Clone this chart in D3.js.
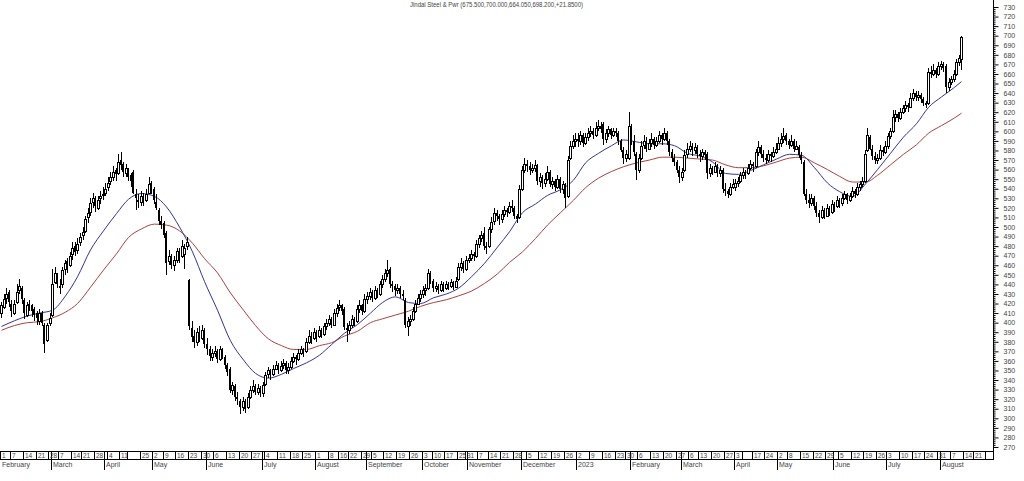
<!DOCTYPE html>
<html>
<head>
<meta charset="utf-8">
<script src="https://cdn.jsdelivr.net/npm/d3@7"></script>
<style>
  body { margin: 0; background: #fff; }
  svg { display: block; font-family: "Liberation Sans", Arial, sans-serif; }
  text { fill: #444; }
</style>
</head>
<body>
<svg width="1024" height="481"></svg>
<script>
// daily candles [open, high, low, close], one small array per month
const feb22 = [[410,422,405,418],[416,430,414,425],[426,436,420,430],[432,434,416,422],[420,424,406,412],[410,424,408,420],[422,440,420,432],[434,446,430,438],[436,438,420,425],[424,426,404,410],[408,422,406,418],[420,424,412,416],[418,420,406,412],[414,416,402,408],[410,412,398,405],[402,414,398,410],[410,412,396,400],[398,400,368,378],[382,400,380,398],[400,410,396,405]];
const mar22 = [[408,456,406,440],[442,458,440,452],[450,452,436,440],[438,446,430,436],[440,458,436,455],[456,466,450,462],[464,468,452,458],[460,474,458,470],[472,484,466,478],[480,484,470,474],[476,488,472,482],[484,494,480,490],[492,500,486,495],[496,512,494,508],[510,520,504,515],[516,530,512,525],[526,536,520,530],[530,532,516,522],[520,532,518,528],[530,538,524,532],[534,542,528,535]];
const apr22 = [[536,546,532,540],[542,552,538,546],[548,558,544,552],[552,564,548,558],[560,562,548,555],[556,576,554,568],[570,578,560,565],[566,568,552,558],[556,566,552,562],[560,562,548,552],[554,556,542,548],[557,560,534,536],[534,540,518,530],[528,534,520,526],[526,538,522,532],[532,536,522,528],[528,540,526,535],[536,552,534,545],[546,548,534,540]];
const may22 = [[540,542,524,528],[526,534,518,520],[518,520,502,506],[506,512,498,502],[504,506,488,492],[494,496,450,462],[464,476,460,470],[468,472,456,460],[460,470,454,466],[466,478,462,475],[474,478,462,468],[470,486,468,480],[472,482,456,478],[480,490,476,484],[445,446,392,396],[394,402,380,385],[386,392,374,380],[380,394,376,390],[390,396,380,384],[384,398,382,392],[392,394,374,378]];
const jun22 = [[378,384,366,372],[372,376,360,365],[364,372,360,368],[368,376,364,370],[370,372,358,362],[362,376,360,372],[372,374,362,366],[364,366,352,356],[356,358,344,348],[352,354,326,330],[330,338,324,335],[334,336,318,322],[322,328,314,320],[318,320,305,312],[312,322,308,318],[318,320,306,310],[312,326,310,322],[322,334,320,330],[330,340,326,334],[334,336,324,328],[328,336,324,332],[332,334,322,326]];
const jul22 = [[326,338,322,335],[336,348,334,345],[346,354,342,350],[350,352,340,346],[346,356,344,352],[352,360,350,356],[356,358,346,350],[350,360,348,355],[356,362,352,358],[358,360,346,350],[350,358,346,354],[354,364,352,360],[360,368,358,364],[364,366,356,362],[362,372,360,368],[368,376,366,372],[372,374,364,370],[370,384,368,380],[380,392,378,386],[386,390,378,384],[384,394,382,390]];
const aug22 = [[390,392,380,386],[386,396,384,392],[392,394,384,388],[388,400,386,396],[396,404,392,400],[400,408,396,404],[404,406,394,398],[398,414,396,410],[410,420,406,415],[416,424,412,418],[418,420,408,412],[414,416,392,395],[394,400,380,392],[392,402,388,398],[398,408,394,404],[404,406,396,402],[402,418,400,414],[414,424,410,418],[418,420,408,412],[412,430,410,425]];
const sep22 = [[425,432,420,428],[428,436,424,432],[432,434,422,426],[426,438,424,434],[434,436,426,430],[430,444,428,440],[440,450,436,446],[446,456,442,452],[452,466,448,455],[456,458,436,440],[440,444,432,438],[438,440,428,434],[434,440,430,436],[436,438,426,430],[430,434,424,428],[424,426,394,398],[396,406,386,402],[402,408,396,404],[404,416,402,412],[412,424,410,420],[420,430,418,426],[426,434,422,430]];
const oct22 = [[430,438,426,434],[434,440,428,436],[436,456,434,452],[452,454,440,444],[444,446,432,436],[436,442,432,438],[438,440,430,434],[434,444,432,440],[440,442,432,436],[436,444,434,440],[440,442,434,438],[438,446,436,442],[442,444,434,437],[437,448,436,444],[446,462,444,458],[458,468,454,462],[462,464,452,456],[456,470,454,465]];
const nov22 = [[465,472,462,468],[468,476,464,472],[472,474,464,470],[470,486,468,482],[482,492,478,488],[488,496,484,492],[494,500,476,480],[480,484,472,478],[480,500,478,498],[498,510,494,505],[506,520,502,515],[515,518,506,512],[512,514,502,508],[508,518,504,514],[514,522,510,518],[518,520,510,516],[516,526,514,522],[522,528,516,520],[520,522,508,512],[512,514,504,508],[510,544,508,540]];
const dec22 = [[540,564,538,560],[560,572,556,566],[566,570,558,564],[564,568,554,560],[560,566,556,562],[562,570,558,565],[564,566,544,548],[548,556,542,552],[552,554,540,546],[546,556,542,550],[550,564,548,558],[558,560,542,545],[545,552,540,548],[548,550,538,542],[542,554,540,550],[550,552,536,540],[540,548,534,545],[544,546,520,530],[532,574,530,570],[572,590,570,585],[585,596,582,590],[590,598,584,592]];
const jan23 = [[592,598,584,590],[590,600,586,596],[596,598,584,588],[588,598,586,594],[594,604,590,598],[598,606,594,600],[600,604,592,596],[596,610,594,604],[604,612,600,606],[606,610,598,602],[608,610,586,592],[592,602,588,598],[598,606,594,602],[602,604,592,596],[596,604,594,600],[600,604,594,598],[598,600,586,590],[590,592,578,580],[580,584,566,572],[572,580,568,576],[572,620,570,606]];
const feb23 = [[604,608,586,590],[590,596,574,578],[576,578,549,560],[560,576,556,572],[572,590,570,585],[586,596,582,590],[590,594,578,582],[582,592,580,588],[588,598,584,592],[592,594,582,586],[586,594,584,590],[590,600,588,596],[596,598,586,592],[592,604,590,598],[598,600,586,590],[590,592,574,578],[578,582,568,572],[572,576,564,568],[568,570,556,560],[560,564,546,552]];
const mar23 = [[552,562,548,558],[560,580,558,575],[576,588,572,582],[582,590,578,585],[585,588,574,580],[580,588,576,584],[584,586,572,576],[576,580,568,574],[574,582,570,578],[578,580,570,575],[576,578,550,556],[556,566,552,562],[562,564,554,558],[558,568,556,564],[564,566,552,556],[556,564,552,560],[560,562,536,540],[540,546,532,538],[538,540,530,535],[535,546,532,542],[542,550,540,545]];
const apr23 = [[542,550,538,546],[546,552,542,548],[548,558,546,554],[554,562,550,558],[558,560,550,556],[556,566,554,562],[562,570,560,566],[566,568,558,564],[564,582,562,578],[578,590,574,584],[584,586,572,576],[576,580,568,572],[572,576,566,570],[570,580,568,576],[576,578,568,574],[574,584,572,578],[578,588,576,582]];
const may23 = [[582,594,580,588],[588,598,584,592],[592,604,588,595],[596,598,586,590],[590,592,582,586],[586,596,584,590],[590,592,578,582],[582,590,580,585],[584,586,572,575],[575,578,566,570],[568,570,532,535],[535,540,524,528],[528,534,520,525],[525,534,522,530],[530,532,518,522],[522,526,510,515],[515,518,504,510],[510,522,508,518],[518,520,508,512],[512,524,510,520],[520,522,512,516],[516,528,514,524]];
const jun23 = [[524,526,516,522],[522,532,520,528],[528,530,520,525],[525,534,522,530],[530,538,528,534],[534,536,524,528],[528,536,526,532],[532,542,530,538],[538,540,530,534],[534,546,532,542],[542,548,538,545],[545,552,542,548],[548,580,546,576],[580,604,578,596],[594,596,580,582],[582,586,570,574],[574,578,566,570],[570,576,566,572],[572,586,570,580],[580,584,574,578],[578,590,576,585]];
const jul23 = [[585,598,582,595],[595,604,592,600],[600,622,598,615],[615,622,610,618],[618,620,610,614],[614,624,612,620],[620,628,618,624],[624,632,620,628],[628,630,620,625],[625,640,624,635],[635,644,632,640],[640,642,632,636],[636,642,632,638],[638,640,630,634],[634,636,626,630],[630,632,624,628],[630,666,628,662],[662,668,656,660],[660,670,658,664],[664,666,656,660],[660,672,658,668]];
const aug23 = [[668,674,664,670],[670,672,662,666],[668,670,640,646],[646,656,642,652],[652,658,648,655],[655,664,652,660],[660,676,658,672],[672,680,668,676.35],[675.5,700,664.05,698.2]];

// moving averages, one value every 5 sessions (last at session 378)
const maStep = 5;
const blueMA = [396,402,407,410,413,428,448,476,496,514,529,535,532,521,500,474,443,413,381,361,347,342,346,352,358,366,377,389,398,410,421,427,421,420,426,430,436,448,462,479,495,515,524,533,539,549,567,577,585,591,589,587,587,585,577,574,568,556,555,559,565,571,576,575,562,546,537,532,545,560,577,594,608,625,636,646,652];
const redMA = [392,397,400,401,405,411,420,437,455,472,489,498,503,502,496,483,467,452,431,413,397,383,376,372,372,376,379,386,391,400,404,408,412,417,421,424,428,433,441,451,463,474,488,502,515,528,541,551,558,563,567,570,573,573,572,571,570,565,562,562,564,568,572,573,567,560,553,547,547,554,565,576,586,598,606,614,619];

const holidays = ['2022-03-01','2022-03-18','2022-04-14','2022-04-15','2022-05-03','2022-08-09','2022-08-15','2022-08-31','2022-10-05','2022-10-24','2022-10-26','2022-11-08','2023-01-26','2023-03-07','2023-03-30','2023-04-04','2023-04-07','2023-04-14','2023-05-01','2023-06-29','2023-08-15'];
const firstDay = '2022-02-01';
const lastAxisDay = '2023-08-30';
const hiddenWeekLabels = ['2022-04-18','2023-04-10'];
const monthNames = ['January','February','March','April','May','June','July','August','September','October','November','December'];
const title = 'Jindal Steel & Pwr (675.500,700.000,664.050,698.200,+21.8500)';

function whenLoaded(){
    const svg = d3.select('svg');
    const fmt = d3.timeFormat('%Y-%m-%d');
    const parse = d3.timeParse('%Y-%m-%d');

    // trading sessions on the axis
    const dates = d3.timeDay.range(parse(firstDay), d3.timeDay.offset(parse(lastAxisDay), 1))
        .filter(d => d.getDay() !== 0 && d.getDay() !== 6 && !holidays.includes(fmt(d)))
        .map(fmt);

    const candles = [].concat(feb22, mar22, apr22, may22, jun22, jul22, aug22, sep22, oct22, nov22, dec22,
        jan23, feb23, mar23, apr23, may23, jun23, jul23, aug23)
        .map((d, i) => ({date: dates[i], o: d[0], h: d[1], l: d[2], c: d[3]}));

    const plotRight = 993;
    const plotBottom = 451;

    const x = d3.scaleBand().domain(dates).range([0, plotRight]);
    const y = d3.scaleLinear().domain([270, 730]).range([447, 7]);
    const cx = d => Math.round(x(d) + x.bandwidth() / 2);

    // moving averages
    const maPoints = vals => vals.map((v, i) => ({date: dates[Math.min(i * maStep, candles.length - 1)], v}));
    const line = d3.line().x(d => cx(d.date) + 0.5).y(d => y(d.v)).curve(d3.curveMonotoneX);

    svg.append('path').datum(maPoints(redMA))
        .attr('d', line).attr('fill', 'none').attr('stroke', '#b0413e').attr('stroke-width', 1);
    svg.append('path').datum(maPoints(blueMA))
        .attr('d', line).attr('fill', 'none').attr('stroke', '#34349e').attr('stroke-width', 1);

    // candles
    const g = svg.append('g').attr('shape-rendering', 'crispEdges');
    const top = d => Math.round(y(Math.max(d.o, d.c)));
    const bottom = d => Math.round(y(Math.min(d.o, d.c)));

    g.selectAll('line.wick').data(candles).enter().append('line')
        .attr('class', 'wick')
        .attr('x1', d => cx(d.date) + 0.5).attr('x2', d => cx(d.date) + 0.5)
        .attr('y1', d => y(d.h)).attr('y2', d => y(d.l))
        .attr('stroke', '#000');

    // rising sessions: hollow body
    g.selectAll('rect.up').data(candles.filter(d => d.c >= d.o)).enter().append('rect')
        .attr('class', 'up')
        .attr('x', d => cx(d.date) - 0.5)
        .attr('width', 2)
        .attr('y', d => top(d) + 0.5)
        .attr('height', d => Math.max(1, bottom(d) - top(d)))
        .attr('fill', '#fff')
        .attr('stroke', '#000');

    // falling sessions: solid body
    g.selectAll('rect.down').data(candles.filter(d => d.c < d.o)).enter().append('rect')
        .attr('class', 'down')
        .attr('x', d => cx(d.date) - 1)
        .attr('width', 2)
        .attr('y', d => top(d))
        .attr('height', d => Math.max(1, bottom(d) - top(d)))
        .attr('fill', '#000');

    // right price axis
    const yAxis = d3.axisRight(y)
        .tickValues(d3.range(270, 731, 2))
        .tickSize(2)
        .tickFormat(v => v % 10 === 0 ? v : '');
    const yAxisG = svg.append('g')
        .attr('transform', `translate(${plotRight + 0.5},0)`)
        .call(yAxis);
    yAxisG.select('.domain').attr('d', `M0,0V${plotBottom}`).attr('stroke', '#000');
    yAxisG.selectAll('.tick line')
        .attr('x2', v => v % 10 === 0 ? 5 : 2)
        .attr('stroke', '#000');
    yAxisG.selectAll('.tick text')
        .attr('x', 10)
        .style('font-size', '7px')
        .attr('fill', '#444');

    // bottom date box
    const axis = svg.append('g').attr('shape-rendering', 'crispEdges');
    axis.append('rect')
        .attr('x', 0.5).attr('y', plotBottom + 0.5)
        .attr('width', plotRight).attr('height', 8)
        .attr('fill', 'none').attr('stroke', '#000');

    const weekStarts = dates.filter((d, i) => i === 0 || d3.timeMonday.floor(parse(d)) > parse(dates[i - 1]));
    const monthStarts = dates.filter((d, i) => i === 0 || parse(d).getMonth() !== parse(dates[i - 1]).getMonth());

    axis.selectAll('line.week').data(weekStarts.slice(1)).enter().append('line')
        .attr('x1', d => Math.round(x(d)) + 0.5).attr('x2', d => Math.round(x(d)) + 0.5)
        .attr('y1', plotBottom).attr('y2', plotBottom + 8)
        .attr('stroke', '#000');
    svg.selectAll('text.week')
        .data(weekStarts.filter(d => !hiddenWeekLabels.includes(d) && x(d) < plotRight - 8))
        .enter().append('text')
        .attr('x', d => Math.round(x(d)) + 2)
        .attr('y', plotBottom + 7)
        .style('font-size', '6.5px')
        .text(d => parse(d).getDate());

    axis.selectAll('line.month').data(monthStarts.slice(1)).enter().append('line')
        .attr('x1', d => Math.round(x(d)) + 0.5).attr('x2', d => Math.round(x(d)) + 0.5)
        .attr('y1', plotBottom).attr('y2', plotBottom + 19)
        .attr('stroke', '#000');
    svg.selectAll('text.month').data(monthStarts).enter().append('text')
        .attr('x', d => Math.round(x(d)) + 2)
        .attr('y', plotBottom + 16)
        .style('font-size', '7px')
        .text(d => {
            const t = parse(d);
            return t.getMonth() === 0 ? t.getFullYear() : monthNames[t.getMonth()];
        });

    svg.append('text')
        .attr('x', 410).attr('y', 7)
        .attr('textLength', 173).attr('lengthAdjust', 'spacingAndGlyphs')
        .style('font-size', '7px')
        .text(title);
}

window.onload = whenLoaded;
</script>
</body>
</html>
